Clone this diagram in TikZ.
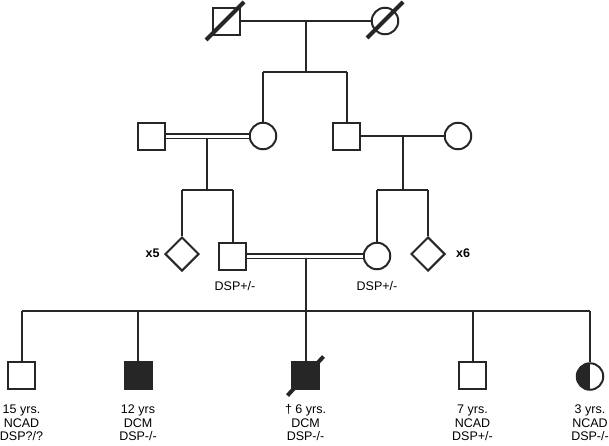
\documentclass[tikz,border=0pt]{standalone}
\usepackage{fontspec}
\setmainfont{Liberation Sans}
\usetikzlibrary{shapes,shapes.geometric,calc}
\definecolor{ink}{HTML}{262626}

\begin{document}
\begin{tikzpicture}
		[x=1pt,y=-1pt,line width=2pt,color=ink,
		every node/.style={inner sep=0pt,line width=2pt,text=black},
		male/.style={shape=rectangle,draw,minimum size=27pt},
		female/.style={shape=circle,draw,minimum size=26.5pt},
		unknown/.style={shape=diamond,draw,minimum size=34pt},
		affected/.style={fill=ink},
		halfaff/.style={path picture={\fill[ink] (path picture bounding box.north west) rectangle (path picture bounding box.south);}},
		dead/.style={line width=4pt},
		marry/.style={double,double distance=3pt,line width=1.4pt},
		info/.style={align=center,font=\fontsize{12.5}{13.5}\selectfont},
		count/.style={font=\fontsize{12.5}{13.5}\selectfont\bfseries}]
		\useasboundingbox (0,0) rectangle (609,445);
		% generation I
		\node[male] (I1) at (226,21) {};
		\node[female] (I2) at (385,21) {};
		\coordinate (m1) at (305.5,21);
		\coordinate (s1) at (305.5,72);
		% generation II
		\node[male] (II1) at (151.5,136) {};
		\node[female] (II2) at (263,136) {};
		\node[male] (II3) at (346.5,136) {};
		\node[female] (II4) at (458,136) {};
		\coordinate (m2) at (207,138);
		\coordinate (s2) at (207,190);
		\coordinate (m3) at (402.5,136);
		\coordinate (s3) at (402.5,190);
		% generation III
		\node[unknown] (x5) at (182,254) {};
		\node[male] (III1) at (232.5,256) {};
		\node[female] (III2) at (377,256) {};
		\node[unknown] (x6) at (428,254) {};
		\node[count] (n5) at (152.5,253) {x5};
		\node[count] (n6) at (463,253) {x6};
		\node[info] (g1) at (235,286) {DSP+/-};
		\node[info] (g2) at (377,286) {DSP+/-};
		\coordinate (m4) at (305.5,258);
		\coordinate (s4) at (305.5,311);
		% generation IV
		\node[male] (c1) at (21.5,375.5) {};
		\node[male,affected] (c2) at (138,375.5) {};
		\node[male,affected] (c3) at (305.5,375.5) {};
		\node[male] (c4) at (472.5,375.5) {};
		\node[female,halfaff] (c5) at (590,376.5) {};
		\node[info] (t1) at (21.5,423) {15 yrs.\\NCAD\\DSP?/?};
		\node[info] (t2) at (138,423) {12 yrs\\DCM\\DSP-/-};
		\node[info] (t3) at (305.5,423) {† 6 yrs.\\DCM\\DSP-/-};
		\node[info] (t4) at (472.5,423) {7 yrs.\\NCAD\\DSP+/-};
		\node[info] (t5) at (590,423) {3 yrs.\\NCAD\\DSP-/-};
		% couples
		\draw (I1) -- (I2);
		\draw (II3) -- (II4);
		\draw[marry] (II1) -- (II2);
		\draw[marry] (III1) -- (III2);
		% lines of descent
		\path
		\foreach \startNode/\endNode in {m1/s1, m2/s2, m3/s3, m4/s4}
		{
			(\startNode) edge[-] (\endNode)
		};
		\draw (s1 -| II2) -- (s1 -| II3);
		\draw (s1 -| II2) -- (II2);
		\draw (s1 -| II3) -- (II3);
		\draw (s2 -| x5) -- (s2 -| III1);
		\draw (s2 -| x5) -- (x5);
		\draw (s2 -| III1) -- (III1);
		\draw (s3 -| III2) -- (s3 -| x6);
		\draw (s3 -| III2) -- (III2);
		\draw (s3 -| x6) -- (x6);
		\draw (s4 -| c1) -- (s4 -| c5);
		\foreach \kid in {c1,c2,c3,c4,c5}
			\draw (s4 -| \kid) -- (\kid);
		% deceased
		\draw[dead] ($(I1)+(-20,19)$) -- ($(I1)+(18,-19)$);
		\draw[dead] ($(I2)+(-18,17)$) -- ($(I2)+(18,-19)$);
		\draw[dead] ($(c3)+(-18,20)$) -- ($(c3)+(18,-19)$);
\end{tikzpicture}
\end{document}
